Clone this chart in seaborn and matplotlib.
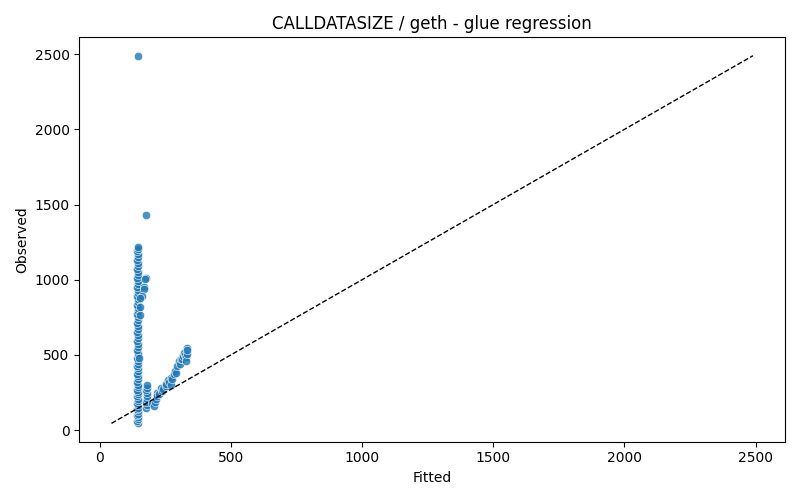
import numpy as np
import pandas as pd
import matplotlib
matplotlib.use("Agg")
import matplotlib.pyplot as plt
import seaborn as sns

# main column, fitted ~145
col_obs = [45, 60, 75, 90, 100, 110, 125, 140, 150, 165, 180, 195, 210, 225, 240,
           255, 270, 285, 300, 320, 340, 360, 375, 390, 410, 425, 440, 460, 480,
           500, 515, 530, 550, 570, 590, 610, 630, 650, 670, 690, 710, 730, 750,
           770, 790, 810, 830, 850, 870, 890, 910, 930, 950, 970, 990, 1010, 1030,
           1050, 1070, 1090, 1110, 1130, 1150, 1170, 1190, 1205, 1220, 2490]
col_fit = [145, 144, 146, 145, 144, 146, 145, 144, 146, 145, 144, 146, 145, 144, 146,
           145, 144, 146, 145, 144, 146, 145, 144, 146, 145, 144, 146, 145, 144,
           146, 145, 144, 146, 145, 144, 146, 145, 144, 146, 145, 144, 146, 145,
           144, 146, 145, 144, 146, 145, 144, 146, 145, 144, 146, 145, 144, 146,
           145, 144, 146, 145, 144, 146, 145, 144, 146, 145, 145]

# side points next to the main column
side_fit = [178, 172, 168, 170, 160, 155, 155, 152, 150, 176]
side_obs = [1010, 1005, 950, 940, 890, 880, 820, 765, 480, 1430]

# second short column, fitted ~178
col2_obs = [148, 165, 185, 205, 225, 245, 265, 282, 300]
col2_fit = [178, 180, 178, 181, 179, 181, 178, 180, 179]

# diagonal group
diag_fit = [200, 206, 210, 213, 218, 220, 226, 233, 238, 240, 251, 251, 262, 264,
            270, 272, 275, 283, 289, 290, 296, 302, 305, 309, 315, 318, 321, 327,
            328, 330, 333, 334, 333]
diag_obs = [183, 161, 190, 208, 248, 230, 241, 282, 261, 275, 295, 308, 330, 318,
            349, 300, 340, 375, 396, 380, 429, 462, 440, 476, 474, 490, 516, 500,
            483, 460, 543, 509, 530]

fitted = col_fit + side_fit + col2_fit + diag_fit
observed = col_obs + side_obs + col2_obs + diag_obs
df = pd.DataFrame({"Fitted": fitted, "Observed": observed})

fig, ax = plt.subplots(figsize=(8, 5), dpi=100)
sns.scatterplot(data=df, x="Fitted", y="Observed", alpha=0.8, ax=ax)
lo = min(df["Fitted"].min(), df["Observed"].min())
hi = max(df["Fitted"].max(), df["Observed"].max())
ax.plot([lo, hi], [lo, hi], "k--", linewidth=1)
ax.set_title("CALLDATASIZE / geth - glue regression")
ax.set_xlabel("Fitted")
ax.set_ylabel("Observed")
plt.tight_layout()
plt.savefig("out.png")
